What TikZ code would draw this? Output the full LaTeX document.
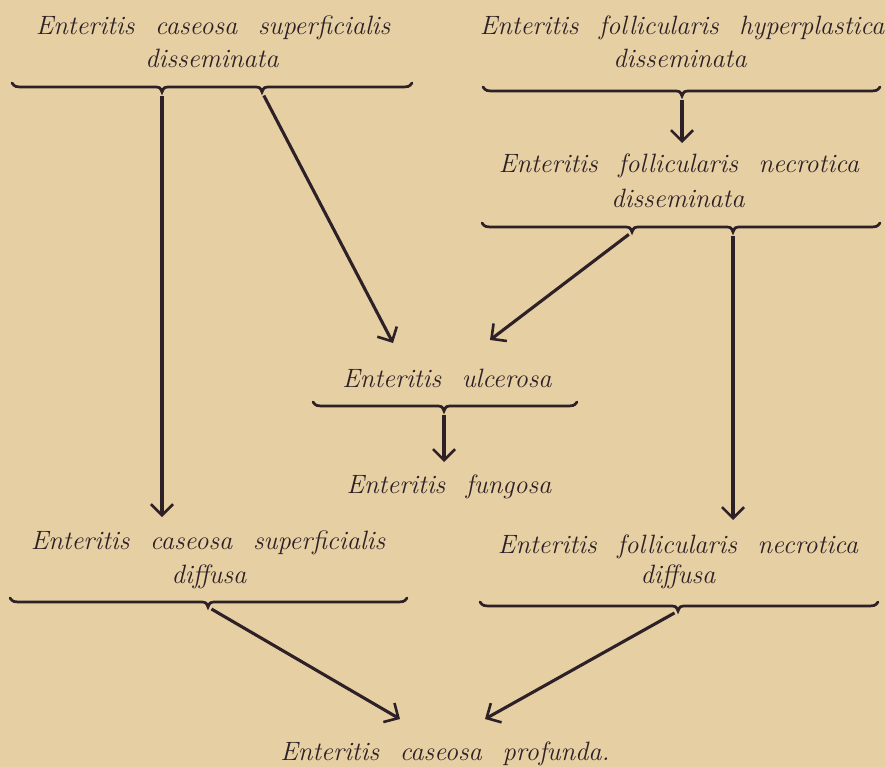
\documentclass[tikz,border=0pt]{standalone}
\usetikzlibrary{arrows.meta}
\definecolor{paper}{RGB}{229,207,163}
\definecolor{ink}{RGB}{45,32,38}
\newcommand\lblfont{\fontsize{26.5}{30}\selectfont\itshape\spaceskip 0.78em\relax}
\tikzset{
 lbl/.style={anchor=base, inner sep=0pt, font={\lblfont}, text=ink},
 brc/.style={draw=ink, line width=2.7pt, line cap=round},
 arr/.style={draw=ink, line width=3.1pt, shorten <=4pt, -{Straight Barb[length=11pt,width=22pt,line width=2.6pt]}},
}
% single-tip brace: a b t y name
\newcommand\brOne[5]{%
 \draw[brc] (#1,#4-4) .. controls (#1+3,#4) .. (#1+14,#4) -- (#3-10,#4) .. controls (#3-2,#4) .. (#3,#4+5) .. controls (#3+2,#4) .. (#3+10,#4) -- (#2-14,#4) .. controls (#2-3,#4) .. (#2,#4-4);
 \coordinate (#5) at (#3,#4+5);}
% two-tip brace: a b t1 t2 y name1 name2
\newcommand\brTwo[7]{%
 \draw[brc] (#1,#5-4) .. controls (#1+3,#5) .. (#1+14,#5) -- (#3-10,#5) .. controls (#3-2,#5) .. (#3,#5+5) .. controls (#3+2,#5) .. (#3+10,#5) -- (#4-10,#5) .. controls (#4-2,#5) .. (#4,#5+5) .. controls (#4+2,#5) .. (#4+10,#5) -- (#2-14,#5) .. controls (#2-3,#5) .. (#2,#5-4);
 \coordinate (#6) at (#3,#5+5);
 \coordinate (#7) at (#4,#5+5);}
\begin{document}
\begin{tikzpicture}[x=1pt,y=-1pt]
\fill[paper] (0,0) rectangle (885,767);
\useasboundingbox (0,0) rectangle (885,767);
% texts
\node[lbl] (n1a) at (213,35) {Enteritis caseosa superficialis};
\node[lbl] (n1b) at (212,68) {disseminata};
\node[lbl] (n2a) at (682,35) {Enteritis follicularis hyperplastica};
\node[lbl] (n2b) at (680,68) {disseminata};
\node[lbl] (n3a) at (679,173) {Enteritis follicularis necrotica};
\node[lbl] (n3b) at (678,208) {disseminata};
\node[lbl] (n4) at (447,387) {Enteritis ulcerosa};
\node[lbl] (n5) at (449,493) {Enteritis fungosa};
\node[lbl] (n6a) at (208,549) {Enteritis caseosa superficialis};
\node[lbl] (n6b) at (209,583) {diffusa};
\node[lbl] (n7a) at (678,553) {Enteritis follicularis necrotica};
\node[lbl] (n7b) at (678,583) {diffusa};
\node[lbl] (n8) at (445,760) {Enteritis caseosa profunda.};
% braces
\brTwo{12}{412}{162}{262}{87}{b1l}{b1r}
\brOne{483}{880}{682}{91}{b2}
\brTwo{482}{880}{632}{733}{227}{b3l}{b3r}
\brOne{313}{577}{444}{406}{b4}
\brOne{10}{407}{208}{602}{b5}
\brOne{480}{878}{678}{606}{b6}
% arrow ends
\coordinate (eA) at (162,517);
\coordinate (eB) at (393,343);
\coordinate (eC) at (682,143);
\coordinate (eD) at (490,340);
\coordinate (eE) at (733,520);
\coordinate (eF) at (444,462);
\coordinate (eG) at (400,719);
\coordinate (eH) at (485,719);
% arrows
\draw[arr] (b1l) -- (eA);
\draw[arr] (b1r) -- (eB);
\draw[arr] (b2) -- (eC);
\draw[arr] (b3l) -- (eD);
\draw[arr] (b3r) -- (eE);
\draw[arr] (b4) -- (eF);
\draw[arr] (b5) -- (eG);
\draw[arr] (b6) -- (eH);
\end{tikzpicture}
\end{document}
